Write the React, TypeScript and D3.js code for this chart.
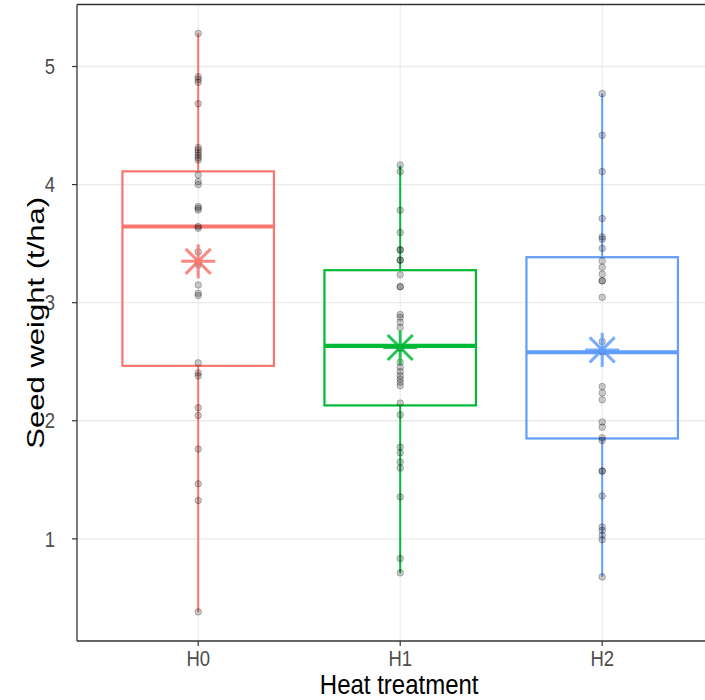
import React from "react";
import * as d3 from "d3";

const groups = ["H0", "H1", "H2"];
const colors = ["#F8766D", "#00BA38", "#619CFF"];

const q1 = [2.465, 2.13, 1.85];
const medians = [3.645, 2.635, 2.58];
const q3 = [4.112, 3.275, 3.385];
const whiskerLow = [0.38, 0.71, 0.68];
const whiskerHigh = [5.28, 4.16, 4.77];
const means = [3.35, 2.62, 2.6];

const pointsH0 = [5.28, 4.913, 4.89, 4.866, 4.685, 4.313, 4.293, 4.27, 4.248, 4.228, 4.208, 4.081, 4.025, 4.0, 3.814, 3.8, 3.785, 3.645, 3.63, 3.43, 3.34, 3.32, 3.15, 3.08, 3.06, 2.49, 2.405, 2.38, 2.11, 2.045, 1.76, 1.467, 1.325, 0.382];
const pointsH1 = [4.166, 4.11, 3.783, 3.594, 3.447, 3.447, 3.36, 3.36, 3.236, 3.135, 3.135, 2.9, 2.876, 2.834, 2.79, 2.614, 2.614, 2.495, 2.453, 2.416, 2.382, 2.354, 2.326, 2.297, 2.15, 2.05, 1.777, 1.729, 1.65, 1.6, 1.355, 0.833, 0.712];
const pointsH2 = [4.77, 4.417, 4.11, 3.713, 3.557, 3.538, 3.46, 3.354, 3.3, 3.242, 3.185, 3.185, 3.045, 2.67, 2.585, 2.585, 2.29, 2.236, 2.177, 1.99, 1.946, 1.856, 1.833, 1.574, 1.574, 1.363, 1.1, 1.072, 1.03, 0.993, 0.678];
const pointSets = [pointsH0, pointsH1, pointsH2];

const yTicks = [1, 2, 3, 4, 5];

const W = 705;
const H = 700;
const panelLeft = 77;
const panelTop = 4.5;
const panelBottom = 641;
const panelRight = 723.4;

export default function App() {
  const lo = d3.min(whiskerLow)!;
  const hi = d3.max(whiskerHigh)!;
  const pad = (hi - lo) * 0.05;
  const y = d3.scaleLinear().domain([lo - pad, hi + pad]).range([panelBottom, panelTop]);
  const x = d3.scalePoint<string>().domain(groups).range([panelLeft, panelRight]).padding(0.6);
  const step = x.step();
  const boxW = step * 0.75;
  const font = "'Liberation Sans', Arial, sans-serif";
  const r = 17;
  const d = 12.5;

  return (
    <svg width={W} height={H} style={{ display: "block", position: "absolute", left: 0, top: 0 }}>
      <rect x={0} y={0} width={W} height={H} fill="#fff" />
      <g>
        {yTicks.map((t) => (
          <line key={"gy" + t} x1={panelLeft} x2={W} y1={y(t)} y2={y(t)} stroke="#EBEBEB" strokeWidth={1.3} />
        ))}
        {groups.map((g) => (
          <line key={"gx" + g} x1={x(g)} x2={x(g)} y1={panelTop} y2={panelBottom} stroke="#EBEBEB" strokeWidth={1.1} />
        ))}
      </g>
      {groups.map((g, i) => {
        const cx = x(g)!;
        const c = colors[i];
        return (
          <g key={"box" + g}>
            <line x1={cx} x2={cx} y1={y(q3[i])} y2={y(whiskerHigh[i])} stroke={c} strokeWidth={2} />
            <line x1={cx} x2={cx} y1={y(q1[i])} y2={y(whiskerLow[i])} stroke={c} strokeWidth={2} />
            <rect x={cx - boxW / 2} y={y(q3[i])} width={boxW} height={y(q1[i]) - y(q3[i])} fill="none" stroke={c} strokeWidth={2.2} />
            <line x1={cx - boxW / 2} x2={cx + boxW / 2} y1={y(medians[i])} y2={y(medians[i])} stroke={c} strokeWidth={4.2} />
          </g>
        );
      })}
      {groups.map((g, i) => (
        <g key={"pts" + g}>
          {pointSets[i].map((v, j) => (
            <circle key={j} cx={x(g)} cy={y(v)} r={3.3} fill="#000" fillOpacity={0.2} stroke="#000" strokeOpacity={0.25} strokeWidth={1} />
          ))}
        </g>
      ))}
      {groups.map((g, i) => {
        const cx = x(g)!;
        const cy = y(means[i]);
        return (
          <g key={"mean" + g} stroke={colors[i]} strokeWidth={3} strokeOpacity={0.85} strokeLinecap="butt">
            <line x1={cx - r} x2={cx + r} y1={cy} y2={cy} />
            <line x1={cx} x2={cx} y1={cy - r} y2={cy + r} />
            <line x1={cx - d} x2={cx + d} y1={cy - d} y2={cy + d} />
            <line x1={cx - d} x2={cx + d} y1={cy + d} y2={cy - d} />
          </g>
        );
      })}
      <line x1={panelLeft} x2={W} y1={panelTop} y2={panelTop} stroke="#333" strokeWidth={1.3} />
      <line x1={panelLeft} x2={W} y1={panelBottom} y2={panelBottom} stroke="#333" strokeWidth={1.3} />
      <line x1={panelLeft} x2={panelLeft} y1={panelTop} y2={panelBottom} stroke="#333" strokeWidth={1.3} />
      {yTicks.map((t) => (
        <g key={"yt" + t}>
          <line x1={panelLeft - 5} x2={panelLeft} y1={y(t)} y2={y(t)} stroke="#333" strokeWidth={1.2} />
          <text transform={`translate(${panelLeft - 22},${y(t)}) scale(1,1.15)`} dy="0.36em" textAnchor="end" fontFamily={font} fontSize={18.5} fill="#4D4D4D">{t}</text>
        </g>
      ))}
      {groups.map((g) => (
        <g key={"xt" + g}>
          <line x1={x(g)} x2={x(g)} y1={panelBottom} y2={panelBottom + 5} stroke="#333" strokeWidth={1.2} />
          <text transform={`translate(${x(g)},${panelBottom + 25}) scale(1,1.15)`} textAnchor="middle" fontFamily={font} fontSize={18.5} fill="#4D4D4D">{g}</text>
        </g>
      ))}
      <text transform={`translate(${(panelLeft + panelRight) / 2 - 1},694) scale(1,1.12)`} textAnchor="middle" fontFamily={font} fontSize={24} fill="#000">Heat treatment</text>
      <text transform={`translate(44,${(panelTop + panelBottom) / 2}) rotate(-90) scale(1.35,1)`} textAnchor="middle" fontFamily={font} fontSize={23} fill="#000">Seed weight (t/ha)</text>
    </svg>
  );
}
